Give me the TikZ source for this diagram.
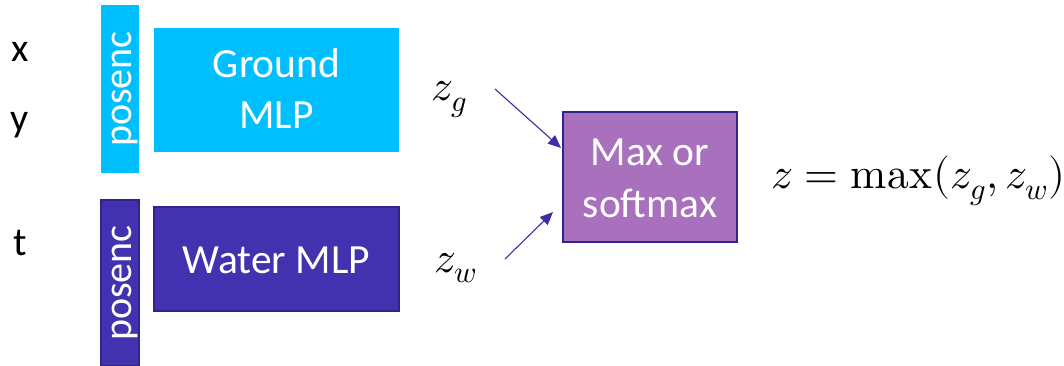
\documentclass[tikz,border=0pt]{standalone}
\usepackage{fontspec}
\usepackage{unicode-math}
\setmainfont{Carlito}
\setmathfont{Latin Modern Math}
\usetikzlibrary{arrows.meta,calc}
\definecolor{groundc}{RGB}{0,191,255}
\definecolor{waterc}{RGB}{66,50,176}
\definecolor{waterb}{RGB}{47,36,140}
\definecolor{maxc}{RGB}{169,113,189}
\definecolor{arrowc}{RGB}{60,45,170}
\tikzset{
  box/.style={rectangle, inner sep=0pt, align=center, text=white, font=\fontsize{41.5}{51}\selectfont},
  ptext/.style={box, rotate=90, font=\fontsize{40}{44}\selectfont},
  gbox/.style={box, fill=groundc},
  wbox/.style={box, fill=waterc, draw=waterb, line width=1.2pt},
  mbox/.style={box, fill=maxc, draw=waterb, line width=1.5pt},
  lab/.style={font=\fontsize{40}{48}\selectfont, anchor=base, inner sep=0pt},
  mathlab/.style={font=\fontsize{43.5}{48}\selectfont, anchor=base west, inner sep=0pt},
  arr/.style={draw=arrowc, line width=1.1pt, -{Triangle[length=13pt,width=11pt]}, arrowc},
}
\begin{document}
\begin{tikzpicture}[x=1pt,y=-1pt]
\useasboundingbox (0,0) rectangle (1064,366);
% inputs
\node[lab] (lx) at (20,62) {x};
\node[lab] (ly) at (20,132) {y};
\node[lab] (lt) at (20,255) {t};
% ground branch
\node[gbox, minimum width=38pt, minimum height=168pt] (pg) at (120,89) {};
\node[ptext] (pgt) at ($(pg.center)+(5,0)$) {posenc};
\node[gbox, minimum width=245pt, minimum height=124pt] (gm) at (276.5,90) {};
\node[box, anchor=base] (gmt1) at (276.5,78) {Ground};
\node[box, anchor=base] (gmt2) at (276.5,129) {MLP};
% water branch
\node[wbox, minimum width=38pt, minimum height=166pt] (pw) at (120,283) {};
\node[ptext] (pwt) at ($(pw.center)+(5,0)$) {posenc};
\node[wbox, minimum width=245pt, minimum height=104pt] (wm) at (276.5,259) {};
\node[box, anchor=base] (wmt) at (276.5,273) {Water MLP};
% combiner
\node[mbox, minimum width=174pt, minimum height=130pt] (mx) at (650,177) {};
\node[box, anchor=base] (mxt1) at (650,166) {Max or};
\node[box, anchor=base] (mxt2) at (650,217) {softmax};
% labels
\node[mathlab] (zg) at (431,101) {$z_g$};
\node[mathlab] (zw) at (434,272) {$z_w$};
\node[mathlab] (eq) at (771,189) {$z=\mathop{\symup{max}}\nolimits(z_g,z_w)$};
% arrows
\coordinate (a1s) at (495,89);
\coordinate (a1e) at (561,148);
\coordinate (a2s) at (505,259);
\coordinate (a2e) at (553,212);
\draw[arr] (a1s) -- (a1e);
\draw[arr] (a2s) -- (a2e);
\end{tikzpicture}
\end{document}
